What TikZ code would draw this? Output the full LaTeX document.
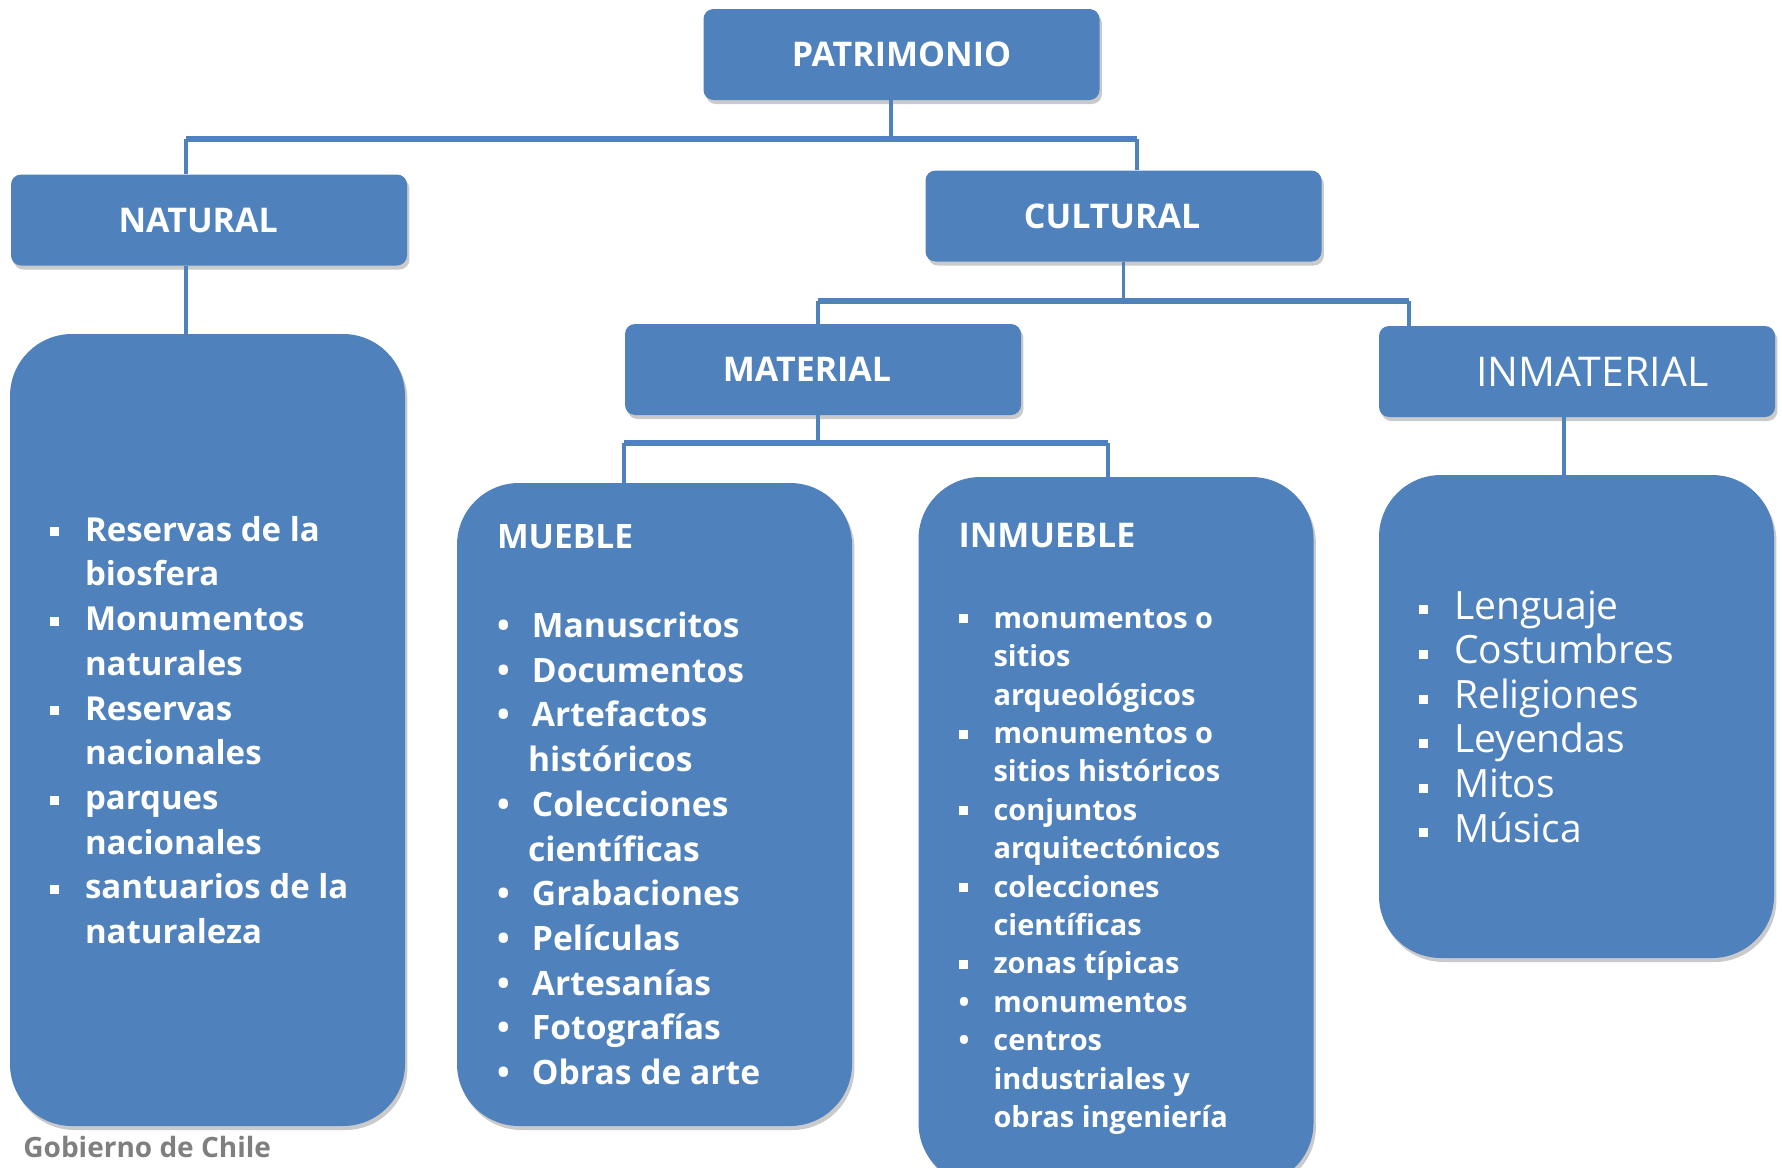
\documentclass[tikz,border=0pt]{standalone}
\usepackage{fontspec}
\setmainfont{Open Sans}
\usetikzlibrary{shadows}
\definecolor{boxblue}{HTML}{4F81BD}
\definecolor{gobgray}{HTML}{7F7F7F}
\newcommand{\sqb}{\makebox[17.5pt][l]{\rule[2.4pt]{4.5pt}{4.5pt}}}
\newcommand{\rdb}{\makebox[17.5pt][l]{\textbullet}}
\newcommand{\hng}{\hspace*{17.5pt}}
\tikzset{
  shad/.style={drop shadow={shadow xshift=1.2pt, shadow yshift=-2pt, opacity=.35, fill=black!60}},
  head/.style={fill=boxblue, text=white, rounded corners=5pt, shad,
    minimum width=198pt, minimum height=45.5pt, inner sep=0pt,
    font=\bfseries\fontsize{17}{20}\selectfont},
  listbox/.style={fill=boxblue, rounded corners=31pt, shad, inner sep=0pt,
    minimum width=197.5pt},
  listtxt/.style={text=white, align=left, inner sep=0pt, anchor=west},
  link/.style={draw=boxblue, line width=1.7pt},
  bus/.style={draw=boxblue, line width=2.7pt}
}
\begin{document}
\begin{tikzpicture}[x=0.5pt, y=-0.5pt]
  \useasboundingbox (0,0) rectangle (1782,1167);

  %% top level
  \node[head] (patri) at (901.5,54.5) {PATRIMONIO};
  \node[head] (natural) at (209,220) {NATURAL\hspace*{10.8pt}};
  \node[head] (cultural) at (1123.5,216) {CULTURAL\hspace*{11.4pt}};
  \node[head] (material) at (823,369.5) {MATERIAL\hspace*{16pt}};
  \node[head, font=\fontsize{20.5}{22}\selectfont] (inmat) at (1577,371.5)
    {\hspace*{15.4pt}INMATERIAL};

  %% big boxes
  \node[listbox, minimum height=396pt] (natlist) at (207.5,730) {};
  \node[listbox, minimum height=321.5pt] (mueble) at (654.5,804.5) {};
  \node[listbox, minimum height=354pt] (inmueble) at (1116,831) {};
  \node[listbox, minimum height=241.5pt] (inmlist) at (1576.5,716.5) {};

  \node[listtxt, font=\bfseries\fontsize{16.5}{22.35}\selectfont]
    (nattxt) at ([xshift=20pt]natlist.west) {%
    \sqb Reservas de la\\ \hng biosfera\\
    \sqb Monumentos\\ \hng naturales\\
    \sqb Reservas\\ \hng nacionales\\
    \sqb parques\\ \hng nacionales\\
    \sqb santuarios de la\\ \hng naturaleza};

  \node[listtxt, font=\bfseries\fontsize{16.8}{22.35}\selectfont]
    (muebtxt) at ([xshift=20pt]mueble.west) {%
    MUEBLE\\[22.35pt]
    \rdb Manuscritos\\
    \rdb Documentos\\
    \rdb Artefactos\\ \hspace*{15.5pt}históricos\\
    \rdb Colecciones\\ \hspace*{15.5pt}científicas\\
    \rdb Grabaciones\\
    \rdb Películas\\
    \rdb Artesanías\\
    \rdb Fotografías\\
    \rdb Obras de arte};

  \node[listtxt, font=\bfseries\fontsize{14.5}{19.2}\selectfont]
    (inmuebtxt) at ([xshift=20pt, yshift=1pt]inmueble.west) {%
    {\fontsize{17}{19.2}\selectfont INMUEBLE}\\[21pt]
    \sqb monumentos o\\ \hng sitios\\ \hng arqueológicos\\
    \sqb monumentos o\\ \hng sitios históricos\\
    \sqb conjuntos\\ \hng arquitectónicos\\
    \sqb colecciones\\ \hng científicas\\
    \sqb zonas típicas\\
    \rdb monumentos\\
    \rdb centros\\ \hng industriales y\\ \hng obras ingeniería};

  \node[listtxt, font=\fontsize{19.5}{22.3}\selectfont]
    (inmtxt) at ([xshift=20pt]inmlist.west) {%
    \sqb Lenguaje\\
    \sqb Costumbres\\
    \sqb Religiones\\
    \sqb Leyendas\\
    \sqb Mitos\\
    \sqb Música};

  \node[text=gobgray, anchor=base west, inner sep=0pt,
    font=\bfseries\fontsize{14}{16}\selectfont] (gob) at (23,1157) {Gobierno de Chile};

  %% connectors
  \coordinate (b1) at (891,139);
  \coordinate (b1l) at (186,139);
  \coordinate (b1r) at (1137,139);
  \draw[link] (patri.south -| b1) -- (b1);
  \draw[link] (b1l) -- (b1l |- natural.north);
  \draw[link] (b1r) -- (b1r |- cultural.north);
  \draw[bus] (b1l) -- (b1r);
  \draw[link] (natural.south -| b1l) -- (natlist.north -| b1l); %% natural->list

  \coordinate (b2) at (1123.5,301);
  \coordinate (b2l) at (818,301);
  \coordinate (b2r) at (1409,301);
  \draw[link] (cultural.south) -- (b2);
  \draw[link] (b2l) -- (b2l |- material.north);
  \draw[link] (b2r) -- (b2r |- inmat.north);
  \draw[bus] (b2l) -- (b2r);

  \coordinate (b3) at (818,443);
  \coordinate (b3l) at (624,443);
  \coordinate (b3r) at (1108,443);
  \draw[link] (material.south -| b3) -- (b3);
  \draw[link] (b3l) -- (b3l |- mueble.north);
  \draw[link] (b3r) -- (b3r |- inmueble.north);
  \draw[bus] (b3l) -- (b3r);

  \coordinate (c4) at (1564,417);
  \draw[link] (inmat.south -| c4) -- (inmlist.north -| c4); %% inmaterial->list
\end{tikzpicture}
\end{document}
